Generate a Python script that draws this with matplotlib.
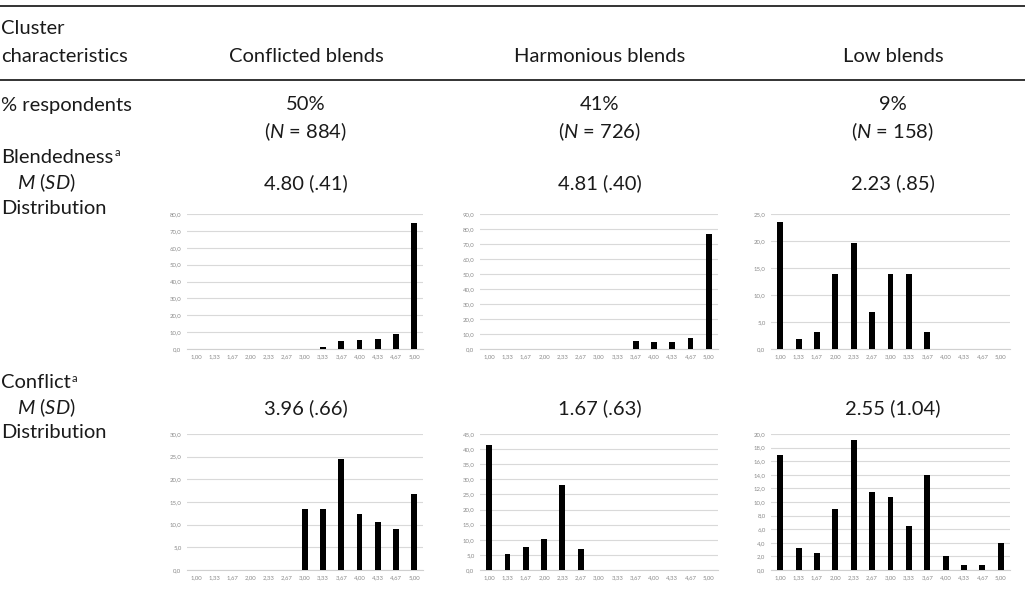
import matplotlib.pyplot as plt
import numpy as np
from matplotlib.lines import Line2D

plt.rcParams['font.family'] = ['Lato', 'DejaVu Sans']
plt.rcParams['mathtext.fontset'] = 'custom'
plt.rcParams['mathtext.rm'] = 'Lato'
plt.rcParams['mathtext.it'] = 'Lato:italic'

# data
clusters = ["Conflicted blends", "Harmonious blends", "Low blends"]
pct = ["50%", "41%", "9%"]
n_resp = [884, 726, 158]
blend_msd = ["4.80 (.41)", "4.81 (.40)", "2.23 (.85)"]
conflict_msd = ["3.96 (.66)", "1.67 (.63)", "2.55 (1.04)"]
scale = ["1,00", "1,33", "1,67", "2,00", "2,33", "2,67", "3,00", "3,33", "3,67", "4,00", "4,33", "4,67", "5,00"]

blend_conf = [0, 0, 0, 0, 0, 0, 0, 1.0, 4.7, 5.1, 5.7, 9.0, 74.5]
blend_harm = [0, 0, 0, 0, 0, 0, 0, 0.3, 5.6, 4.7, 4.7, 7.3, 76.9]
blend_low = [23.5, 1.8, 3.1, 13.8, 19.6, 6.9, 13.8, 13.8, 3.1, 0, 0, 0, 0]
confl_conf = [0, 0, 0, 0, 0, 0, 13.4, 13.4, 24.5, 12.3, 10.6, 9.0, 16.7]
confl_harm = [41.2, 5.2, 7.7, 10.3, 28.2, 6.8, 0, 0, 0, 0, 0, 0, 0]
confl_low = [16.9, 3.2, 2.5, 8.9, 19.1, 11.4, 10.8, 6.4, 14.0, 2.0, 0.7, 0.7, 3.9]

W, H = 1025, 597
fig = plt.figure(figsize=(W / 100, H / 100), dpi=100)
renderer = fig.canvas.get_renderer()
FS = 14.5

def tx(x, y, s, ha="left", size=FS):
    return fig.text(x / W, 1 - y / H, s, ha=ha, va="center", fontsize=size, color="#1a1a1a")

def with_sup(x, y, s, a="a"):
    t = tx(x, y, s)
    bb = t.get_window_extent(renderer)
    fig.text((bb.x1 + 1) / W, 1 - (y - 5) / H, a, ha="left", va="center",
             fontsize=8, color="#1a1a1a")

def hline(y, lw=1.4):
    fig.add_artist(Line2D([0, 1], [1 - y / H, 1 - y / H], color="#333333", lw=lw))

hline(6)
hline(80)

col_x = [306, 600, 893]
tx(1, 28, "Cluster")
tx(1, 57, "characteristics")
for i in range(3):
    tx(col_x[i], 57, clusters[i], ha="center")
    tx(col_x[i], 105, pct[i], ha="center")
    tx(col_x[i], 132, "($\\mathit{N}$ = %d)" % n_resp[i], ha="center")
    tx(col_x[i], 183, blend_msd[i], ha="center")
    tx(col_x[i], 408, conflict_msd[i], ha="center")

tx(1, 105, "% respondents")
with_sup(1, 157, "Blendedness")
tx(17, 183, "$\\mathit{M}$ ($\\mathit{SD}$)")
tx(1, 208, "Distribution")
with_sup(1, 383, "Conflict")
tx(17, 408, "$\\mathit{M}$ ($\\mathit{SD}$)")
tx(1, 432, "Distribution")

def small_chart(left, right, top, bottom, vals, ymax, step):
    ax = fig.add_axes([left / W, 1 - bottom / H, (right - left) / W, (bottom - top) / H])
    x = np.arange(len(scale))
    ax.bar(x, vals, width=0.32, color="black", zorder=3)
    ax.set_xlim(-0.5, len(scale) - 0.5)
    ax.set_ylim(0, ymax)
    yt = np.arange(0, ymax + step / 2, step)
    ax.set_yticks(yt)
    ax.set_yticklabels([("%.1f" % v).replace(".", ",") for v in yt])
    ax.set_xticks(x)
    ax.set_xticklabels(scale)
    ax.tick_params(length=0, labelsize=4.3, labelcolor="#8a8a8a", pad=4)
    ax.grid(axis="y", color="#d9d9d9", lw=0.8, zorder=0)
    for sp in ["top", "right", "left"]:
        ax.spines[sp].set_visible(False)
    ax.spines["bottom"].set_color("#d0d0d0")
    ax.spines["bottom"].set_linewidth(0.8)
    return ax

small_chart(187, 423, 214, 349, blend_conf, 80, 10)
small_chart(480, 718, 214, 349, blend_harm, 90, 10)
small_chart(771, 1010, 214, 349, blend_low, 25, 5)
small_chart(187, 423, 434, 570, confl_conf, 30, 5)
small_chart(480, 718, 434, 570, confl_harm, 45, 5)
small_chart(771, 1010, 434, 570, confl_low, 20, 2)

fig.savefig("out.png", dpi=100)
